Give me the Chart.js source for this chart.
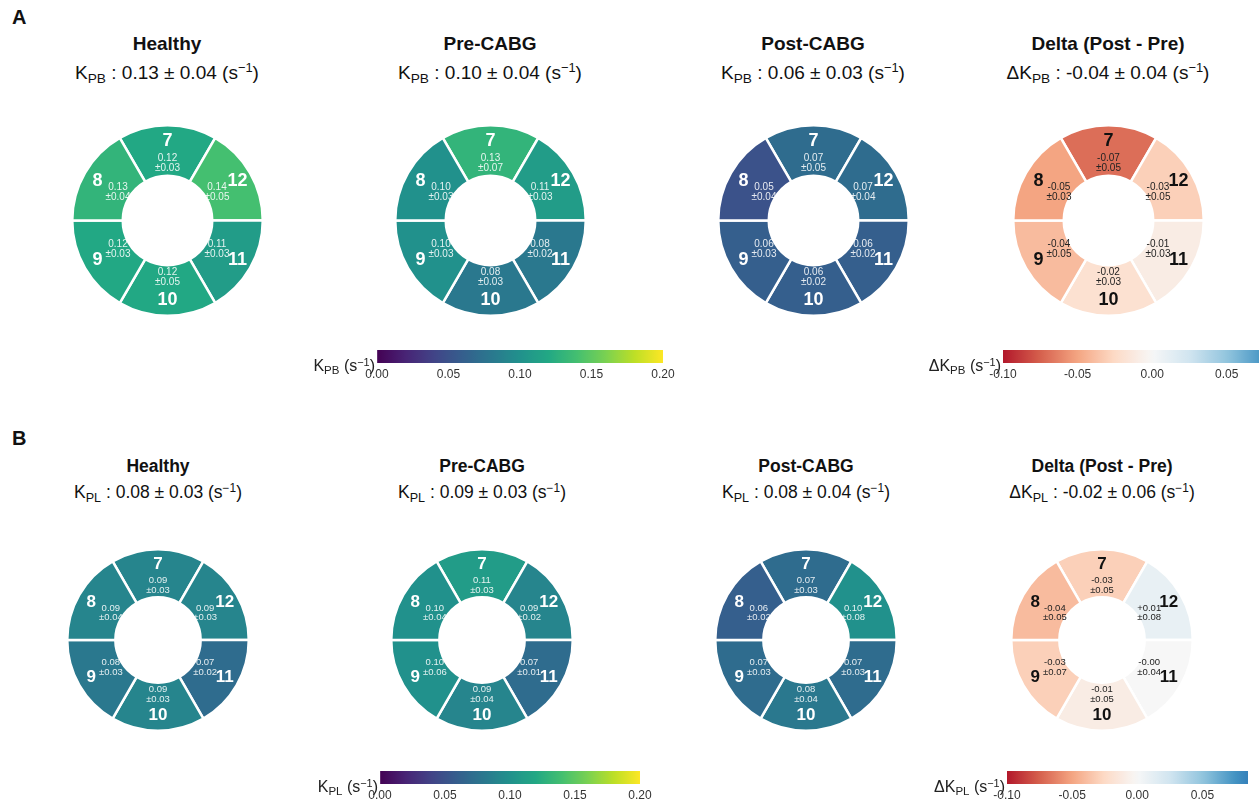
<!DOCTYPE html>
<html>
<head>
<meta charset="utf-8">
<script src="https://cdn.jsdelivr.net/npm/chart.js@4.4.1/dist/chart.umd.min.js"></script>
<style>
  body { margin:0; width:1259px; height:805px; overflow:hidden; background:#fff; position:relative;
         font-family:"Liberation Sans", Arial, sans-serif; color:#111; }
  canvas { position:absolute; }
  .txt { position:absolute; white-space:nowrap; line-height:1; }
  .panel { font-weight:bold; font-size:20px; }
  .ttl { font-weight:bold; transform:translate(-50%,-50%); }
  .sub { transform:translate(-50%,-50%); }
  .cbl { transform:translate(-100%,-50%); font-size:16px; color:#222; }
  sub { font-size:72%; vertical-align:-0.3em; line-height:0; }
  sup { font-size:68%; vertical-align:0.5em; line-height:0; }
</style>
</head>
<body>
<script>
// segment order, clockwise from the top
const segments = ['7', '12', '11', '10', '9', '8'];
const groups = ['Healthy', 'Pre-CABG', 'Post-CABG', 'Delta (Post - Pre)'];

// A: K_PB per segment (mean, sd)
const kpbHealthy   = [0.12, 0.14, 0.11, 0.12, 0.12, 0.13];
const kpbHealthySd = [0.03, 0.05, 0.03, 0.05, 0.03, 0.04];
const kpbPre       = [0.13, 0.11, 0.08, 0.08, 0.10, 0.10];
const kpbPreSd     = [0.07, 0.03, 0.02, 0.03, 0.03, 0.03];
const kpbPost      = [0.07, 0.07, 0.06, 0.06, 0.06, 0.05];
const kpbPostSd    = [0.05, 0.04, 0.02, 0.02, 0.03, 0.04];
const kpbDelta     = [-0.07, -0.03, -0.01, -0.02, -0.04, -0.05];
const kpbDeltaSd   = [0.05, 0.05, 0.03, 0.03, 0.05, 0.03];
const kpbMeans = [0.13, 0.10, 0.06, -0.04];
const kpbSds   = [0.04, 0.04, 0.03, 0.04];

// B: K_PL per segment (mean, sd)
const kplHealthy   = [0.09, 0.09, 0.07, 0.09, 0.08, 0.09];
const kplHealthySd = [0.03, 0.03, 0.02, 0.03, 0.03, 0.04];
const kplPre       = [0.11, 0.09, 0.07, 0.09, 0.10, 0.10];
const kplPreSd     = [0.03, 0.02, 0.01, 0.04, 0.06, 0.04];
const kplPost      = [0.07, 0.10, 0.07, 0.08, 0.07, 0.06];
const kplPostSd    = [0.03, 0.08, 0.03, 0.04, 0.03, 0.02];
const kplDelta     = [-0.03, 0.01, -0, -0.01, -0.03, -0.04];
const kplDeltaSd   = [0.05, 0.08, 0.04, 0.05, 0.07, 0.05];
const kplMeans = [0.08, 0.09, 0.08, -0.02];
const kplSds   = [0.03, 0.03, 0.04, 0.06];

// colour bar ticks and limits
const kTicks = [0.00, 0.05, 0.10, 0.15, 0.20];
const kRange = [0, 0.2];
const dTicks = [-0.10, -0.05, 0.00, 0.05];
const dRange = [-0.1, 0.085];

const FONT = '"Liberation Sans", Arial, sans-serif';
const BW = 2.5;

const viridisStops = ['#440154','#482475','#414487','#355f8d','#2a788e','#21918c',
                      '#22a884','#44bf70','#7ad151','#bddf26','#fde725'];
const rdbuStops = ['#b2182b','#d6604d','#f4a582','#fddbc7','#f7f7f7',
                   '#d1e5f0','#92c5de','#4393c3','#2166ac'];

function hex(h) { return [1,3,5].map(i => parseInt(h.substr(i,2),16)); }
function interp(stops, t) {
  t = Math.min(1, Math.max(0, t));
  const p = t * (stops.length - 1), i = Math.min(Math.floor(p), stops.length - 2), f = p - i;
  const a = hex(stops[i]), b = hex(stops[i+1]);
  return 'rgb(' + a.map((v,k) => Math.round(v + (b[k]-v)*f)).join(',') + ')';
}
const viridis = v => interp(viridisStops, (v - kRange[0]) / (kRange[1] - kRange[0]));
const rdbu = v => interp(rdbuStops, (v + 0.1) / 0.2);

function fmtSigned(v) {
  if (v > 0) return '+' + v.toFixed(2);
  if (v < 0 || Object.is(v, -0)) return '-' + Math.abs(v).toFixed(2);
  return v.toFixed(2);
}

// segment numbers and mean/sd text inside each arc
const segLabels = {
  id: 'segLabels',
  afterDatasetsDraw(chart, args, o) {
    const ctx = chart.ctx;
    const ds = chart.data.datasets[0];
    chart.getDatasetMeta(0).data.forEach((arc, i) => {
      const p = arc.getProps(['x','y','startAngle','endAngle','outerRadius'], true);
      const mid = (p.startAngle + p.endAngle) / 2;
      const c = Math.cos(mid), s = Math.sin(mid), R = p.outerRadius;
      ctx.save();
      ctx.textAlign = 'center';
      ctx.textBaseline = 'middle';
      ctx.fillStyle = o.delta ? '#111' : '#fff';
      ctx.font = 'bold ' + o.numSize + 'px ' + FONT;
      ctx.fillText(segments[i], p.x + c * 0.85 * R, p.y + s * 0.83 * R);
      ctx.fillStyle = o.delta ? '#222' : 'rgba(255,255,255,0.88)';
      ctx.font = o.valSize + 'px ' + FONT;
      const vx = p.x + c * 0.6 * R, vy = p.y + s * 0.6 * R;
      const v = ds.values[i];
      ctx.fillText(o.delta ? fmtSigned(v) : v.toFixed(2), vx, vy - o.valSize * 0.5);
      ctx.fillText('±' + ds.sds[i].toFixed(2), vx, vy + o.valSize * 0.5);
      ctx.restore();
    });
  }
};

function addText(cls, html, x, y, size) {
  const d = document.createElement('div');
  d.className = 'txt ' + cls;
  d.innerHTML = html;
  d.style.left = x + 'px';
  d.style.top = y + 'px';
  if (size) d.style.fontSize = size + 'px';
  document.body.appendChild(d);
}

function ring(cx, cy, r, values, sds, delta, numSize, valSize) {
  const cv = document.createElement('canvas');
  const size = Math.round(2 * r + BW);
  cv.width = size; cv.height = size;
  cv.style.left = (cx - size / 2) + 'px';
  cv.style.top = (cy - size / 2) + 'px';
  document.body.appendChild(cv);
  new Chart(cv, {
    type: 'doughnut',
    data: {
      labels: segments,
      datasets: [{
        data: segments.map(() => 1),
        values: values, sds: sds,
        backgroundColor: values.map(delta ? rdbu : viridis),
        borderColor: '#fff',
        borderWidth: BW
      }]
    },
    options: {
      responsive: false, animation: false,
      rotation: -30, cutout: '47%',
      layout: { padding: 0 },
      plugins: { legend: { display: false }, tooltip: { enabled: false },
                 segLabels: { delta: delta, numSize: numSize, valSize: valSize } }
    },
    plugins: [segLabels]
  });
}

function colorbar(x0, y0, pxPerUnit, h, range, ticks, cmap, tickSize) {
  const cv = document.createElement('canvas');
  const pad = 22, w = Math.round((range[1] - range[0]) * pxPerUnit);
  cv.width = w + 2 * pad; cv.height = h + 22;
  cv.style.left = (x0 - pad) + 'px';
  cv.style.top = y0 + 'px';
  document.body.appendChild(cv);
  new Chart(cv, {
    type: 'bar',
    data: {
      labels: [''],
      datasets: [{
        data: [range],
        borderWidth: 0,
        barPercentage: 1, categoryPercentage: 1,
        backgroundColor: (c) => {
          const ch = c.chart;
          if (!ch.chartArea) return '#888';
          const sx = ch.scales.x;
          const g = ch.ctx.createLinearGradient(sx.getPixelForValue(range[0]), 0, sx.getPixelForValue(range[1]), 0);
          for (let i = 0; i <= 40; i++) {
            g.addColorStop(i / 40, cmap(range[0] + (range[1] - range[0]) * i / 40));
          }
          return g;
        }
      }]
    },
    options: {
      indexAxis: 'y', responsive: false, animation: false,
      layout: { padding: { left: pad, right: pad, top: 0, bottom: 0 } },
      plugins: { legend: { display: false }, tooltip: { enabled: false } },
      scales: {
        y: { display: false },
        x: {
          min: range[0], max: range[1], z: 1,
          afterBuildTicks: s => { s.ticks = ticks.map(v => ({ value: v })); },
          afterFit: s => { s.height = 22; },
          grid: { color: 'rgba(255,255,255,0.85)', lineWidth: 1, drawTicks: false },
          border: { display: false },
          ticks: { callback: v => v.toFixed(2), color: '#333', padding: 4,
                   maxRotation: 0, autoSkip: false, font: { size: tickSize, family: FONT } }
        }
      }
    }
  });
}

// panel A
addText('panel', 'A', 12, 7);
const aX = [167, 490, 813, 1108];
const aSeries = [[kpbHealthy, kpbHealthySd], [kpbPre, kpbPreSd], [kpbPost, kpbPostSd], [kpbDelta, kpbDeltaSd]];
aX.forEach((x, i) => {
  const d = i === 3;
  addText('ttl', groups[i], x, 43, 19);
  addText('sub', (d ? 'Δ' : '') + 'K<sub>PB</sub> : ' + kpbMeans[i].toFixed(2) + ' ± ' +
          kpbSds[i].toFixed(2) + ' (s<sup>−1</sup>)', x, 72, 19);
  ring(x, 220, 95, aSeries[i][0], aSeries[i][1], d, 18, 10);
});
colorbar(377, 350, 1430, 13, kRange, kTicks, viridis, 12);
colorbar(1003, 350, 1490, 13, dRange, dTicks, rdbu, 12);
addText('cbl', 'K<sub>PB</sub> (s<sup>−1</sup>)', 375, 366);
addText('cbl', 'ΔK<sub>PB</sub> (s<sup>−1</sup>)', 1001, 366);

// panel B
addText('panel', 'B', 12, 428);
const bX = [158, 482, 806, 1102];
const bSeries = [[kplHealthy, kplHealthySd], [kplPre, kplPreSd], [kplPost, kplPostSd], [kplDelta, kplDeltaSd]];
bX.forEach((x, i) => {
  const d = i === 3;
  addText('ttl', groups[i], x, 467, 17.5);
  addText('sub', (d ? 'Δ' : '') + 'K<sub>PL</sub> : ' + kplMeans[i].toFixed(2) + ' ± ' +
          kplSds[i].toFixed(2) + ' (s<sup>−1</sup>)', x, 493, 17.5);
  ring(x, 640, 90.5, bSeries[i][0], bSeries[i][1], d, 17, 9.5);
});
colorbar(380, 771, 1300, 13, kRange, kTicks, viridis, 12);
colorbar(1007, 771, 1300, 13, dRange, dTicks, rdbu, 12);
addText('cbl', 'K<sub>PL</sub> (s<sup>−1</sup>)', 378, 787);
addText('cbl', 'ΔK<sub>PL</sub> (s<sup>−1</sup>)', 1005, 787);
</script>
</body>
</html>
